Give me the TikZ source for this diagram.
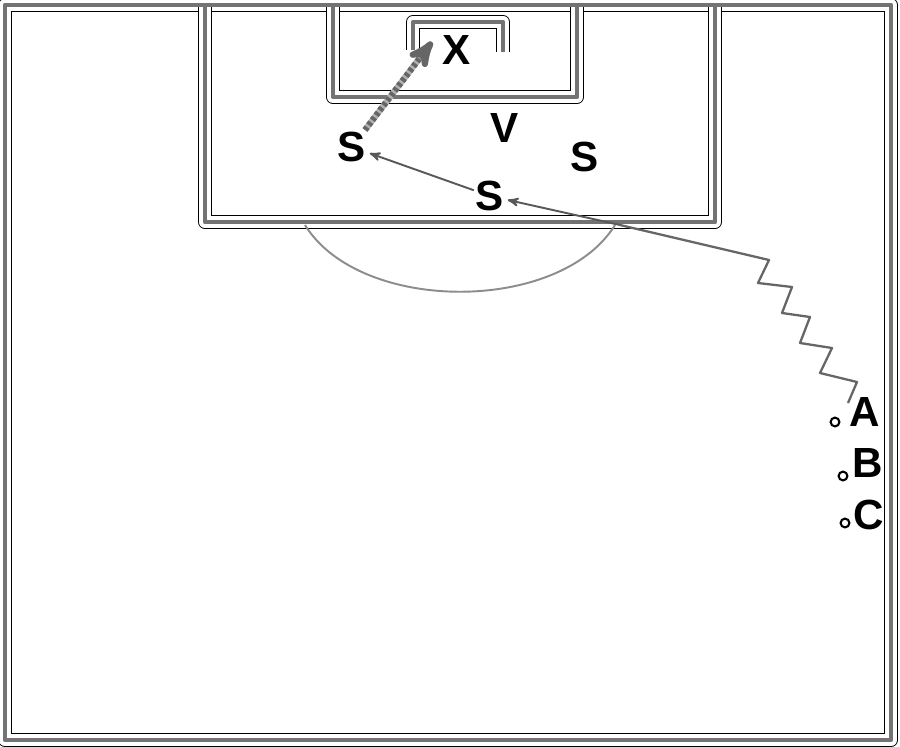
\documentclass[tikz,border=0pt]{standalone}
\usepackage{fontspec}
\setmainfont{Liberation Sans}
\usetikzlibrary{arrows,positioning}
\tikzset{
  pitchrim/.style = {draw=black, line width=0.5pt, double=white,
    double distance=6.9pt, line join=round},% fine outline either side
  pitchline/.style = {draw=black!55, line width=2.4pt, line join=round},
  player/.style = {inner sep=1pt, font=\fontsize{24}{24}\selectfont\bfseries},
  spot/.style = {circle, draw=black, fill=white, line width=1.2pt,
    inner sep=0pt, minimum size=5pt},
  dribble/.style = {draw=black!60, line width=1.3pt, line join=round},
  pass/.style = {->, >=stealth', draw=black!65, line width=1.1pt,
    shorten >=1pt},
  shot/.style = {->, >=stealth', draw=black!60, line width=3.5pt,
    dash pattern=on 2pt off 1.5pt, preaction={draw=black!30, line width=3.5pt}}
}
\begin{document}
\begin{tikzpicture}[x=0.02cm, y=-0.02cm]
  \useasboundingbox (0,0) rectangle (900,747);
  % pitch markings: outlines first, grey lines on top
  \foreach \lay in {pitchrim, pitchline} {
    \draw[\lay] (5,5) rectangle (891,740);
    \draw[\lay] (205,5) -- (205,222) -- (715,222) -- (715,5);
    \draw[\lay] (333,5) -- (333,97) -- (577,97) -- (577,5);
    \draw[\lay] (413,50) -- (413,22) -- (503,22) -- (503,52);
  }
  % arc of the box
  \coordinate (arcl) at (305,225);
  \coordinate (arcr) at (615,225);
  \draw[black!45, line width=1.1pt] (arcl) .. controls (360,314) and (560,314) .. (arcr);

  % players
  \node[player] (x) at (457,50) {X};
  \node[player] (v) at (505,128) {V};
  \node[player] (s1) at (352,147) {S};
  \node[player] (s2) at (490,196) {S};
  \node[player] (s3) at (585,157) {S};
  \node[player] (a) at (865,412) {A};
  \node[player] (b) at (868,463) {B};
  \node[player] (c) at (869,515) {C};
  \node[spot] (pa) at (835,422) {};
  \node[spot] (pb) at (843,476) {};
  \node[spot] (pc) at (845,523) {};

  % dribble, passes and shot
  \coordinate (drib) at (848,403);
  \coordinate (wall) at (620,225);
  \coordinate (aim) at (432,42);
  \draw[dribble] (drib) -- (857,382) -- (820,373) -- (832,348) -- (800,343)
    -- (810,317) -- (782,313) -- (792,287) -- (758,283) -- (769,260) -- (wall);
  \draw[pass] (wall) -- (s2);
  \draw[pass] (s2) -- (s1);
  \draw[shot] (s1) -- (aim);
\end{tikzpicture}
\end{document}
